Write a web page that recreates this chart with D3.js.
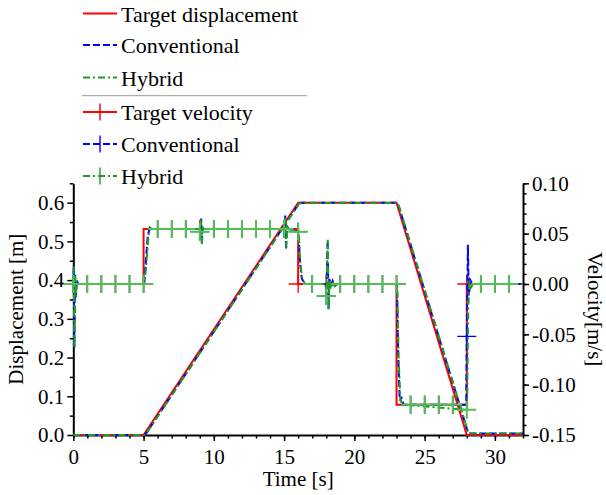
<!DOCTYPE html>
<html>
<head>
<meta charset="utf-8">
<script src="https://cdn.jsdelivr.net/npm/d3@7"></script>
<style>
  body { margin: 0; background: #fff; }
  svg text { font-family: "Liberation Serif", "Times New Roman", Times, serif; fill: #000; }
</style>
</head>
<body>
<div id="wrapper"></div>
<script>
// Akselien tikit
const timeTicks = [0, 5, 10, 15, 20, 25, 30]
const timeMinor = d3.range(0, 33, 1)
const dispTicks = [0, 0.1, 0.2, 0.3, 0.4, 0.5, 0.6]
const dispMinor = [0.05, 0.15, 0.25, 0.35, 0.45, 0.55, 0.65]
const velTicks = [-0.15, -0.10, -0.05, 0, 0.05, 0.10]
const velMinor = d3.range(-15, 11, 1).map(d => d / 100)

// Siirtymä [t, m]
const targetDisp = [[0, 0], [5, 0], [16, 0.6], [23, 0.6], [28, 0], [32, 0]]
const convDisp = [[0, 0], [5.04, 0], [5.2, 0.005], [16.04, 0.597], [16.2, 0.6], [23.05, 0.6], [23.2, 0.586], [28.1, 0.005], [28.3, 0.004], [32, 0.004]]
const hybDisp = [[0, 0], [5.06, 0], [5.22, 0.005], [16.06, 0.597], [16.22, 0.599], [23.07, 0.599], [23.22, 0.586], [28.12, 0.005], [28.32, 0.004], [32, 0.004]]

// Nopeus [t, m/s]
const targetVel = [[0, 0], [5, 0], [5, 0.0545], [16, 0.0545], [16, 0], [23, 0], [23, -0.12], [28, -0.12], [28, 0], [32, 0]]
const convVel = [
  [0, 0], [0.03, 0.016], [0.08, -0.063], [0.13, 0.01], [0.18, -0.013], [0.25, 0.004], [0.35, 0],
  [5.05, 0], [5.15, 0.02], [5.3, 0.048], [5.45, 0.056], [5.6, 0.0545],
  [9.0, 0.0545], [9.05, 0.052], [9.1, 0.065], [9.15, 0.039], [9.2, 0.057], [9.28, 0.0545],
  [15.02, 0.0545], [15.08, 0.068], [15.14, 0.034], [15.2, 0.058], [15.3, 0.0545],
  [16.02, 0.052], [16.12, 0.025], [16.25, 0.006], [16.45, 0],
  [17.96, 0], [18.0, -0.012], [18.1, 0.043], [18.16, -0.025], [18.22, 0.006], [18.3, -0.004], [18.45, 0.003], [18.6, -0.002], [18.8, 0],
  [23.03, 0], [23.12, -0.07], [23.22, -0.112], [23.28, -0.116], [23.34, -0.112], [23.5, -0.12],
  [27.96, -0.12], [28.0, -0.052], [28.08, 0.039], [28.14, -0.012], [28.24, 0.004], [28.4, 0],
  [32, 0]
]
const hybVel = [
  [0, 0], [0.03, 0.017], [0.08, -0.064], [0.13, 0.008], [0.18, -0.012], [0.25, 0.003], [0.35, 0],
  [5.06, 0], [5.2, 0.02], [5.35, 0.048], [5.5, 0.0555], [5.65, 0.0545],
  [8.96, 0.0545], [9.0, 0.052], [9.1, 0.064], [9.15, 0.04], [9.2, 0.056], [9.3, 0.0545],
  [15.03, 0.0545], [15.09, 0.066], [15.15, 0.036], [15.21, 0.057], [15.3, 0.0545],
  [16.04, 0.052], [16.15, 0.02], [16.3, 0.005], [16.5, 0],
  [17.96, 0], [18.0, -0.012], [18.11, 0.044], [18.17, -0.026], [18.23, 0.004], [18.32, -0.005], [18.45, 0.002], [18.6, -0.002], [18.8, 0],
  [23.05, 0], [23.15, -0.075], [23.28, -0.115], [23.42, -0.121], [23.6, -0.12],
  [28.02, -0.125], [28.1, -0.03], [28.18, 0.004], [28.28, -0.004], [28.45, 0],
  [32, 0]
]

// Merkkipisteet (+), yhteiset ajat
const markT = d3.range(0, 32, 1)
const targetMarkV = [0, 0, 0, 0, 0, 0, 0.0545, 0.0545, 0.0545, 0.0545, 0.0545, 0.0545, 0.0545, 0.0545, 0.0545, 0.0545,
  0, 0, 0, 0, 0, 0, 0, 0, -0.12, -0.12, -0.12, -0.12, 0, 0, 0, 0]
const convMarkV = [0, 0, 0, 0, 0, 0, 0.0545, 0.0545, 0.0545, 0.052, 0.0545, 0.0545, 0.0545, 0.0545, 0.0545, 0.0545,
  0.052, 0, -0.012, 0, 0, 0, 0, 0, -0.12, -0.12, -0.12, -0.12, -0.052, 0, 0, 0]
const hybMarkV = [0, 0, 0, 0, 0, 0, 0.0545, 0.0545, 0.0545, 0.052, 0.0545, 0.0545, 0.0545, 0.0545, 0.0545, 0.0545,
  0.052, 0, -0.012, 0, 0, 0, 0, 0, -0.12, -0.12, -0.12, -0.12, -0.125, 0, 0, 0]

const legendLabels = ["Target displacement", "Conventional", "Hybrid", "Target velocity", "Conventional", "Hybrid"]

const red = "#ff0000"
const blue = "#0000ff"
const green = "#1f9e1f"
const greenMark = "#55bd55"
const dashBlue = "7 3"
const dashGreen = "7 3 2 3"
const serif = "'Liberation Serif', 'Times New Roman', Times, serif"

// Mitoitus
const dimensions = {
  width: 606,
  height: 495,
  margin: { top: 183.3, right: 83, bottom: 60, left: 73.3 }
}
dimensions.boundedWidth = dimensions.width - dimensions.margin.left - dimensions.margin.right
dimensions.boundedHeight = dimensions.height - dimensions.margin.top - dimensions.margin.bottom

const wrapper = d3.select("#wrapper")
  .append("svg")
  .attr("width", dimensions.width)
  .attr("height", dimensions.height)
  .attr("font-family", serif)

const bounds = wrapper.append("g")
  .attr("transform", `translate(${dimensions.margin.left},${dimensions.margin.top})`)

// Skaalaimet
const xScale = d3.scaleLinear().domain([0, 32]).range([0, dimensions.boundedWidth])
const yDisp = d3.scaleLinear().domain([0, 0.65]).range([dimensions.boundedHeight, 0])
const yVel = d3.scaleLinear().domain([-0.15, 0.10]).range([dimensions.boundedHeight, 0])

// Akselit (piirretään ensin, data päälle)
const styleAxis = (g) => {
  g.attr("font-family", serif)
  g.select(".domain").attr("stroke", "#000").attr("stroke-width", 2)
  g.selectAll(".tick line").attr("stroke", "#000").attr("stroke-width", 1.5)
  g.selectAll(".tick text").attr("font-size", "21px").attr("fill", "#000")
    .attr("font-family", serif)
}
const velFormat = d => d3.format(".2f")(d).replace("\u2212", "-")

const xAxis = bounds.append("g")
  .attr("transform", `translate(0,${dimensions.boundedHeight})`)
xAxis.append("g").call(d3.axisBottom(xScale).tickValues(timeMinor).tickSize(3.5).tickFormat("").tickSizeOuter(0))
  .call(styleAxis)
xAxis.append("g").call(d3.axisBottom(xScale).tickValues(timeTicks).tickSize(6).tickPadding(8).tickSizeOuter(0))
  .call(styleAxis)
  .call(g => g.select(".domain").remove())

const yAxisL = bounds.append("g")
yAxisL.append("g").call(d3.axisLeft(yDisp).tickValues(dispMinor).tickSize(3.5).tickFormat("").tickSizeOuter(0))
  .call(styleAxis)
yAxisL.append("g").call(d3.axisLeft(yDisp).tickValues(dispTicks).tickSize(6).tickPadding(3).tickFormat(d3.format(".1f")).tickSizeOuter(0))
  .call(styleAxis)
  .call(g => g.select(".domain").remove())

const yAxisR = bounds.append("g")
  .attr("transform", `translate(${dimensions.boundedWidth},0)`)
yAxisR.append("g").call(d3.axisRight(yVel).tickValues(velMinor).tickSize(3.5).tickFormat("").tickSizeOuter(0))
  .call(styleAxis)
yAxisR.append("g").call(d3.axisRight(yVel).tickValues(velTicks).tickSize(6).tickPadding(3).tickFormat(velFormat).tickSizeOuter(0))
  .call(styleAxis)
  .call(g => g.select(".domain").remove())

const dispLine = d3.line().x(d => xScale(d[0])).y(d => yDisp(d[1]))
const velLine = d3.line().x(d => xScale(d[0])).y(d => yVel(d[1]))

const drawPath = (gen, data, color, dash) => bounds.append("path")
  .attr("d", gen(data))
  .attr("fill", "none")
  .attr("stroke", color)
  .attr("stroke-width", 2)
  .attr("stroke-dasharray", dash)

// Siirtymäviivat
drawPath(dispLine, targetDisp, red, null)
drawPath(dispLine, convDisp, blue, dashBlue)
drawPath(dispLine, hybDisp, green, dashGreen)

// Nopeusviivat + merkit
const drawMarks = (ts, vs, color, width) => {
  const pts = ts.map((t, i) => [t, vs[i]])
  bounds.append("g").selectAll("path")
    .data(pts)
    .enter()
    .append("path")
    .attr("d", d => {
      const cx = xScale(d[0]), cy = yVel(d[1])
      return `M${cx - 9.5},${cy}H${cx + 9.5}M${cx},${cy - 9}V${cy + 9}`
    })
    .attr("stroke", color)
    .attr("stroke-width", width)
    .attr("fill", "none")
}

drawPath(velLine, targetVel, red, null)
drawMarks(markT, targetMarkV, red, 1.3)
drawPath(velLine, convVel, blue, dashBlue)
drawMarks(markT, convMarkV, blue, 1.3)
drawPath(velLine, hybVel, green, dashGreen)
drawMarks(markT, hybMarkV, greenMark, 2)

// Akselien otsikot
wrapper.append("text")
  .attr("transform", `translate(23,${dimensions.margin.top + dimensions.boundedHeight / 2}) rotate(-90)`)
  .attr("text-anchor", "middle")
  .attr("font-size", "21px")
  .text("Displacement [m]")

wrapper.append("text")
  .attr("transform", `translate(588,${dimensions.margin.top + dimensions.boundedHeight / 2}) rotate(90)`)
  .attr("text-anchor", "middle")
  .attr("font-size", "21px")
  .text("Velocity[m/s]")

wrapper.append("text")
  .attr("x", dimensions.margin.left + dimensions.boundedWidth / 2)
  .attr("y", 486)
  .attr("text-anchor", "middle")
  .attr("font-size", "21px")
  .text("Time [s]")

// Selite
const legendY = [13.5, 45, 77.5, 112, 144, 176]
const legendStyles = [
  { color: red, dash: null, mark: false },
  { color: blue, dash: dashBlue, mark: false },
  { color: green, dash: dashGreen, mark: false },
  { color: red, dash: null, mark: true },
  { color: blue, dash: dashBlue, mark: true },
  { color: green, dash: dashGreen, mark: true }
]
const legend = wrapper.append("g")
legendLabels.forEach((label, i) => {
  const y = legendY[i]
  const s = legendStyles[i]
  legend.append("line")
    .attr("x1", 83).attr("x2", 117).attr("y1", y).attr("y2", y)
    .attr("stroke", s.color).attr("stroke-width", 2)
    .attr("stroke-dasharray", s.dash)
  if (s.mark) {
    legend.append("line")
      .attr("x1", 100).attr("x2", 100).attr("y1", y - 8.5).attr("y2", y + 8.5)
      .attr("stroke", s.color).attr("stroke-width", 1.4)
  }
  legend.append("text")
    .attr("x", 121)
    .attr("y", y + 8)
    .attr("font-size", "22px")
    .text(label)
})
legend.append("line")
  .attr("x1", 82).attr("x2", 307).attr("y1", 95.7).attr("y2", 95.7)
  .attr("stroke", "#999").attr("stroke-width", 1)
</script>
</body>
</html>
